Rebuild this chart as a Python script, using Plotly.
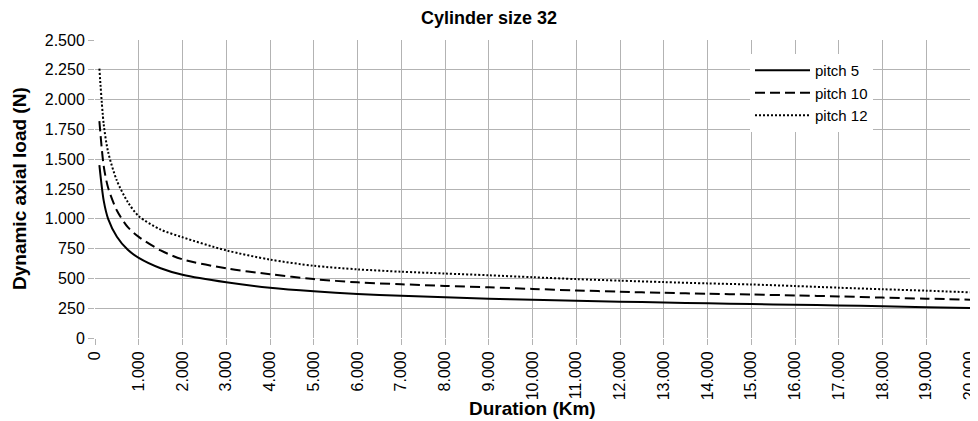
import plotly.graph_objects as go

duration_km = [100, 200, 300, 500, 750, 1000, 1500, 2000, 3000, 4000, 5000, 6000, 7000,
               8000, 9000, 10000, 11000, 12000, 13000, 14000, 15000, 16000, 17000,
               18000, 19000, 20000]

pitch_5 = [1450, 1150, 1000, 850, 740, 672, 585, 530, 467, 422, 392, 370, 354,
           341, 330, 320, 312, 305, 298, 291, 285, 279, 273, 266, 259, 251]
pitch_10 = [1820, 1440, 1260, 1070, 930, 848, 735, 660, 584, 535, 494, 467, 451,
            437, 425, 412, 399, 388, 379, 371, 365, 357, 349, 339, 330, 321]
pitch_12 = [2260, 1790, 1560, 1320, 1140, 1022, 910, 845, 735, 658, 606, 576, 556,
            541, 526, 510, 494, 481, 469, 458, 449, 436, 422, 409, 397, 383]

series_names = ["pitch 5", "pitch 10", "pitch 12"]
x_ticks = list(range(0, 20001, 1000))
y_ticks = list(range(0, 2501, 250))

font_family = "Liberation Sans, Arial, sans-serif"
grid_color = "#b3b3b3"

# The page body adds an 8px offset, so layout is specified 8px up/left.
W, H = 978, 421
ML, MR, MT, MB = 87, 16, 32, 91
PW = W - ML - MR
PH = H - MT - MB

fig = go.Figure()
styles = [("solid", 2), ("10px,5px", 2), ("2px,2px", 2)]
for name, ys, (dash, w) in zip(series_names, [pitch_5, pitch_10, pitch_12], styles):
    fig.add_trace(go.Scatter(
        x=duration_km, y=ys, name=name, mode="lines",
        line=dict(color="black", width=w, dash=dash, shape="spline", smoothing=0.8),
    ))

fig.update_layout(
    template="none",
    width=W, height=H,
    margin=dict(l=ML, r=MR, t=MT, b=MB, autoexpand=False),
    paper_bgcolor="white", plot_bgcolor="white",
    separators=",.",
    font=dict(family=font_family, size=16, color="black"),
    title=dict(text="<b>Cylinder size 32</b>", x=481 / W, xanchor="center",
               y=1 - 10 / H, yanchor="middle", font=dict(size=18)),
    showlegend=True,
    legend=dict(x=(742 - ML) / PW, y=(MT + PH - 46) / PH, xanchor="left", yanchor="top",
                bgcolor="white", borderwidth=0, itemwidth=55,
                font=dict(size=15), traceorder="normal"),
    annotations=[
        dict(text="<b>Duration (Km)</b>", xref="paper", yref="paper",
             x=0.5, y=(MT + PH - 400) / PH, xanchor="center", yanchor="middle",
             showarrow=False, font=dict(size=19)),
        dict(text="<b>Dynamic axial load (N)</b>", xref="paper", yref="paper",
             x=(11 - ML) / PW, y=0.5, xanchor="center", yanchor="middle",
             textangle=-90, showarrow=False, font=dict(size=19)),
    ],
)
fig.update_xaxes(
    range=[0, 20000], tickvals=x_ticks, tickformat=",d", tickangle=-90,
    showgrid=True, gridcolor=grid_color, gridwidth=1,
    ticks="outside", ticklen=6, tickcolor=grid_color, tickwidth=1,
    showline=False, zeroline=False, automargin=False,
    tickfont=dict(size=16),
)
fig.update_yaxes(
    range=[0, 2500], tickvals=y_ticks, tickformat=",d",
    showgrid=True, gridcolor=grid_color, gridwidth=1,
    ticks="outside", ticklen=6, tickcolor=grid_color, tickwidth=1,
    showline=False, zeroline=False, automargin=False,
    tickfont=dict(size=16),
)

fig.write_html("out.html")
